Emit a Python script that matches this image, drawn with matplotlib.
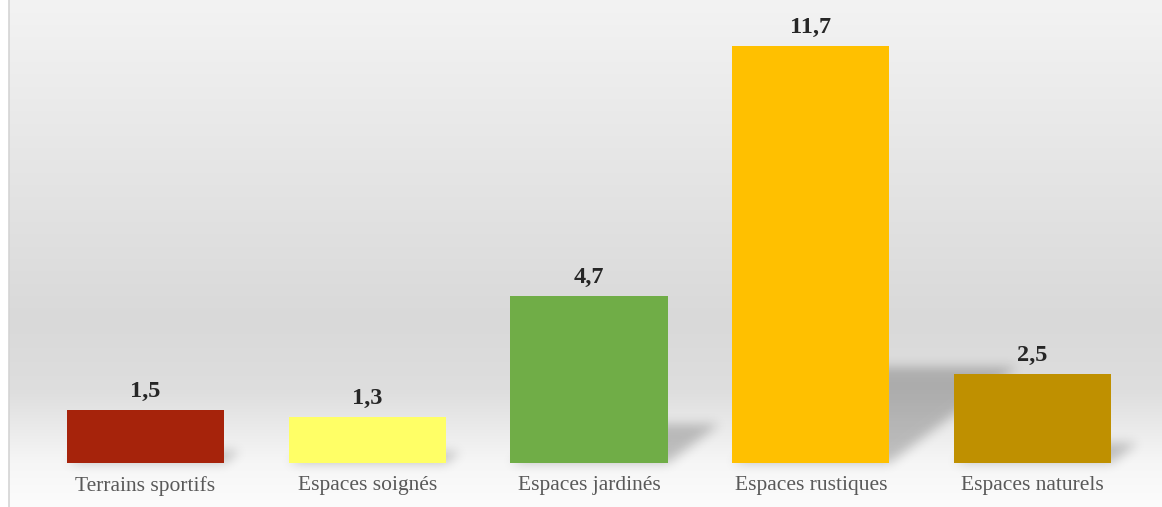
import numpy as np
import matplotlib
matplotlib.use("Agg")
import matplotlib.pyplot as plt
from matplotlib.path import Path

categories = ["Terrains sportifs", "Espaces soignés", "Espaces jardinés", "Espaces rustiques", "Espaces naturels"]
values = [1.5, 1.3, 4.7, 11.7, 2.5]
colors = ["#A6230B", "#FFFF66", "#70AD47", "#FFC000", "#BF9000"]

W, H, DPI = 1162, 507, 100
fig = plt.figure(figsize=(W / DPI, H / DPI), dpi=DPI, facecolor="white")

# background axes (pixel space)
bg = fig.add_axes([0, 0, 1, 1], zorder=0)
bg.set_xlim(0, W)
bg.set_ylim(0, H)
bg.axis("off")

# vertical gradient (top -> bottom)
rows = np.arange(H)
stops_y = [0, 320, 390, 463, 507]
stops_v = [243, 217, 222, 246, 252]
g = np.interp(rows, stops_y, stops_v) / 255.0
grad = np.repeat(g[:, None], 3, axis=1)[:, None, :]
bg.imshow(grad, extent=[9, W, 0, H], origin="upper", aspect="auto", zorder=0, interpolation="bilinear")
bg.plot([8.5, 8.5], [0, H], color="#d4d4d4", lw=1.2, zorder=1)

# main axes
ax = fig.add_axes([34.6 / W, 44 / H, (1143.4 - 34.6) / W, 463 / H], zorder=1)
ax.patch.set_alpha(0)
x = np.arange(len(categories))
width = 0.708
bars = ax.bar(x, values, width=width, color=colors, zorder=3, edgecolor="none")
ax.set_xlim(-0.5, len(categories) - 0.5)
ax.set_ylim(0, 13)
for s in ax.spines.values():
    s.set_visible(False)
ax.set_yticks([])
ax.set_xticks(x)
ax.set_xticklabels(categories, fontfamily="Liberation Serif", fontsize=15.5, color="#595959")
ax.tick_params(axis="x", length=0, pad=9.5)

for xi, v in zip(x, values):
    ax.annotate(f"{v:.1f}".replace(".", ","), (xi, v), xytext=(0, 9.4), textcoords="offset points",
                ha="center", va="baseline", fontfamily="Liberation Serif", fontweight="bold",
                fontsize=17.5, color="#262626", zorder=4)

# perspective shadows computed from bar geometry
fig.canvas.draw()
k = 0.23
slope = 0.75
yy, xx = np.mgrid[0:H, 0:W]
pts = np.column_stack([xx.ravel() + 0.5, yy.ravel() + 0.5])
mask = np.zeros(H * W)
for xi, v in zip(x, values):
    (x0, y0), (x1, y1) = ax.transData.transform([(xi - width / 2, 0), (xi + width / 2, v)])
    hpx = (y1 - y0) * k
    s = hpx / slope
    poly = Path([(x0, y0), (x1, y0), (x1 + s, y0 + hpx), (x0 + s, y0 + hpx), (x0, y0)])
    mask = np.maximum(mask, poly.contains_points(pts).astype(float))
mask = mask.reshape(H, W)

def blur(a, sigma):
    r = int(3 * sigma)
    ker = np.exp(-0.5 * (np.arange(-r, r + 1) / sigma) ** 2)
    ker /= ker.sum()
    pad = np.pad(a, ((r, r), (r, r)), mode="constant")
    tmp = np.zeros_like(pad)
    for i, kv in enumerate(ker):
        tmp[:, r:-r] += kv * pad[:, i:i + a.shape[1]]
    out = np.zeros_like(a)
    for i, kv in enumerate(ker):
        out += kv * tmp[i:i + a.shape[0], r:-r]
    return out

mask = blur(mask, 5.5)
rgba = np.zeros((H, W, 4))
rgba[..., 3] = mask * 0.22
bg.imshow(rgba, extent=[0, W, 0, H], origin="lower", aspect="auto", zorder=2, interpolation="nearest")

fig.savefig("out.png", dpi=DPI, facecolor="white")
